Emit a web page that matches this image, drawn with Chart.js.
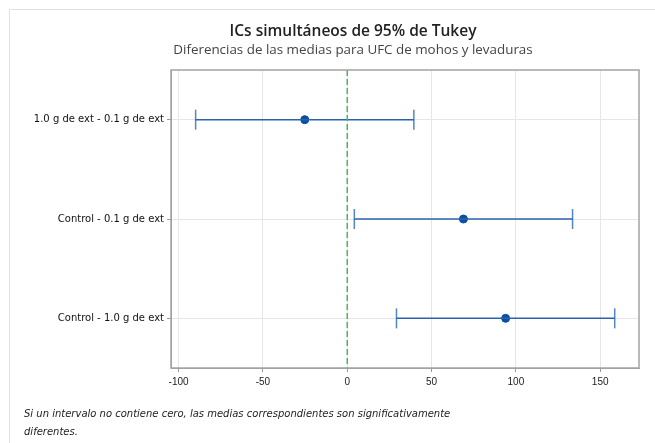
<!DOCTYPE html>
<html>
<head>
<meta charset="utf-8">
<script src="https://cdn.jsdelivr.net/npm/chart.js@4"></script>
<style>
    html, body { margin: 0; padding: 0; background: #fff; overflow: hidden; }
    #wrap { position: relative; width: 655px; height: 443px; }
    #frame { position: absolute; left: 9px; top: 9px; width: 700px; height: 500px; border-left: 1px solid #e2e2e2; border-top: 1px solid #e2e2e2; }
    canvas { position: absolute; left: 0; top: 0; }
    .head { position: absolute; left: 26px; width: 654px; text-align: center; font-family: "Open Sans", sans-serif; white-space: nowrap; }
    #title { top: 19px; font-size: 15.5px; font-weight: 600; color: #222; }
    #subtitle { top: 40px; font-size: 13.4px; color: #444; }
    #note { position: absolute; left: 24px; top: 405px; font: italic 10px "DejaVu Sans", sans-serif; line-height: 18px; color: #222; }
</style>
</head>
<body>
<div id="wrap">
    <div id="frame"></div>
    <canvas id="tukeyChart" width="655" height="443"></canvas>
    <div class="head" id="title">ICs simultáneos de 95% de Tukey</div>
    <div class="head" id="subtitle">Diferencias de las medias para UFC de mohos y levaduras</div>
    <div id="note">Si un intervalo no contiene cero, las medias correspondientes son significativamente<br>diferentes.</div>
</div>
<script>
// Tukey pairwise comparisons
const comparisons = ['1.0 g de ext - 0.1 g de ext', 'Control - 0.1 g de ext', 'Control - 1.0 g de ext'];
const diffMeans = [-25.2, 68.9, 93.9];
const lowerLimits = [-89.9, 4.2, 29.2];
const upperLimits = [39.5, 133.6, 158.6];
const xTicks = [-100, -50, 0, 50, 100, 150];
const xRange = [-104.5, 173];

const blue = '#2a63ad';
const capBlue = '#4f87c7';
const dotBlue = '#0b4ea2';

// one horizontal segment for each interval
const intervalSets = comparisons.map((c, i) => ({
    label: c,
    data: [{ x: lowerLimits[i], y: i }, { x: upperLimits[i], y: i }],
    showLine: true,
    borderColor: blue,
    borderWidth: 1.5,
    pointRadius: 0
}));

const capData = [];
comparisons.forEach((c, i) => {
    capData.push({ x: lowerLimits[i], y: i });
    capData.push({ x: upperLimits[i], y: i });
});

// frame round the plot area
const plotFrame = {
    id: 'plotFrame',
    afterDraw(chart) {
        const a = chart.chartArea;
        const ctx = chart.ctx;
        ctx.save();
        ctx.strokeStyle = '#a3a3a3';
        ctx.lineWidth = 1.5;
        ctx.strokeRect(a.left, a.top, a.right - a.left, a.bottom - a.top);
        ctx.restore();
    }
};

new Chart(document.getElementById('tukeyChart'), {
    type: 'scatter',
    data: {
        datasets: [
            {
                label: 'cero',
                data: [{ x: 0, y: -0.5 }, { x: 0, y: 2.5 }],
                showLine: true,
                borderColor: '#4fb460',
                borderWidth: 1.5,
                borderDash: [6, 3],
                pointRadius: 0
            },
            ...intervalSets,
            {
                label: 'limites',
                data: capData,
                pointStyle: 'line',
                rotation: 90,
                pointRadius: 10,
                pointBorderColor: capBlue,
                pointBorderWidth: 1.5
            },
            {
                label: 'media',
                data: comparisons.map((c, i) => ({ x: diffMeans[i], y: i })),
                pointRadius: 4,
                pointBackgroundColor: dotBlue,
                pointBorderColor: dotBlue
            }
        ]
    },
    options: {
        responsive: false,
        animation: false,
        layout: {
            padding: { left: 10, right: 16, top: 70, bottom: 51 }
        },
        plugins: {
            legend: { display: false },
            tooltip: { enabled: false }
        },
        scales: {
            x: {
                type: 'linear',
                min: xRange[0],
                max: xRange[1],
                afterBuildTicks: (axis) => { axis.ticks = xTicks.map(v => ({ value: v })); },
                afterFit: (axis) => { axis.height = 24; },
                grid: { color: '#e6e6e6', tickColor: '#999', tickLength: 4 },
                border: { color: '#a3a3a3' },
                ticks: { color: '#222', font: { family: 'Liberation Sans', size: 10 }, padding: 4 }
            },
            y: {
                type: 'linear',
                min: -0.5,
                max: 2.5,
                reverse: true,
                afterBuildTicks: (axis) => { axis.ticks = comparisons.map((c, i) => ({ value: i })); },
                afterFit: (axis) => { axis.width = 161; },
                grid: { color: '#e6e6e6', tickColor: '#999', tickLength: 4 },
                border: { color: '#a3a3a3' },
                ticks: {
                    color: '#111',
                    font: { family: 'DejaVu Sans', size: 10 },
                    padding: 3,
                    callback: (v) => comparisons[v]
                }
            }
        }
    },
    plugins: [plotFrame]
});
</script>
</body>
</html>
